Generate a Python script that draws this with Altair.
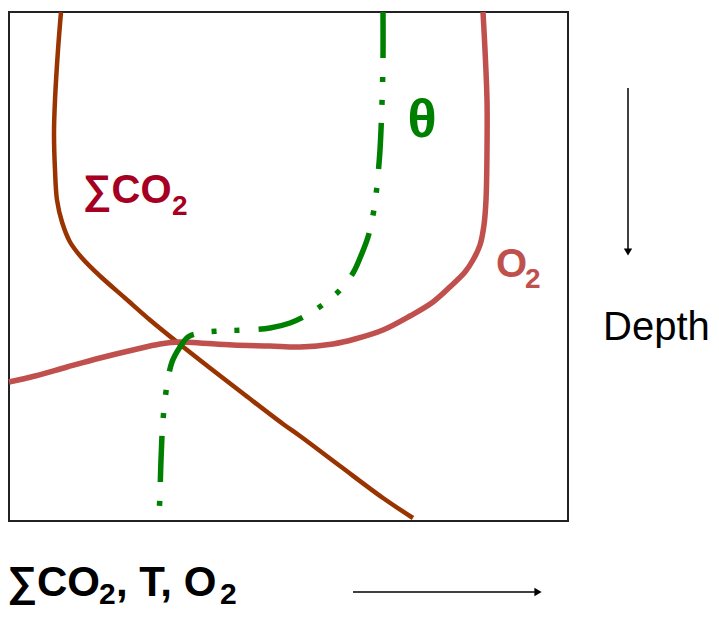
import altair as alt
import pandas as pd

# ---- data (arbitrary units: value along x, depth downward) ----
co2_x = [52, 49, 46, 45, 46, 48, 53, 61, 73, 91, 116, 141, 168, 201, 236, 274, 291, 331, 374, 404]
co2_d = [0, 38, 88, 121, 158, 188, 210, 230, 246, 264, 286, 308, 330, 356, 383, 412, 424, 454, 486, 506]

o2_x = [474, 476, 478, 478, 477, 475, 471, 464, 456, 443, 424, 401, 374, 346, 324, 291, 261, 224, 191, 171, 151, 124, 91, 58, 26, 0]
o2_d = [0, 38, 88, 138, 188, 213, 233, 248, 260, 273, 290, 304, 318, 327, 332, 335, 334, 333, 331, 330, 332, 338, 346, 355, 364, 370]

th_x = [374, 374, 373, 371, 369, 367, 364, 359, 351, 344, 331, 316, 298, 281, 261, 234, 211, 191, 179, 171, 163, 158, 154, 152, 151, 150]
th_d = [0, 46, 91, 138, 163, 183, 203, 225, 246, 261, 278, 291, 303, 311, 316, 318, 319, 321, 325, 335, 350, 373, 408, 448, 481, 506]

W, H = 559, 509
FONT = "Liberation Sans, Arial, sans-serif"

def series(xs, ds):
    return pd.DataFrame({"x": xs, "d": ds, "i": list(range(len(xs)))})

xs = alt.Scale(domain=[0, W], nice=False, zero=False)
ys = alt.Scale(domain=[0, H], nice=False, zero=False, reverse=True)

def line(df, color, width, dash=None):
    kw = dict(color=color, strokeWidth=width, interpolate="catmull-rom", strokeCap="butt")
    if dash:
        kw["strokeDash"] = dash
    return alt.Chart(df).mark_line(**kw).encode(
        x=alt.X("x:Q", scale=xs, axis=None),
        y=alt.Y("d:Q", scale=ys, axis=None),
        order="i:O",
    )

co2 = line(series(co2_x, co2_d), "#993300", 4.5)
o2 = line(series(o2_x, o2_d), "#c0504d", 5.5)
th = line(series(th_x, th_d), "#008000", 5.5, [46, 19, 5, 18, 5, 18])

one = pd.DataFrame({"a": [0]})

def txt(s, x, y, size, color="black", weight="bold", align="left"):
    return alt.Chart(one).mark_text(
        align=align, baseline="alphabetic", fontSize=size, fontWeight=weight,
        font=FONT, color=color,
    ).encode(x=alt.value(x), y=alt.value(y), text=alt.value(s))

labels = [
    txt("∑CO", 74, 191, 40, "#a50021"),
    txt("2", 163, 203, 28, "#a50021"),
    txt("θ", 413, 125, 54, "#008000", align="center"),
    txt("O", 487, 265, 40, "#c0504d"),
    txt("2", 516, 276, 28, "#c0504d"),
    txt("Depth", 594, 328, 40, "black", "normal"),
    txt("∑CO", -2, 584, 42),
    txt("2", 90, 592, 30),
    txt(", T, O", 107, 584, 42),
    txt("2", 211, 592, 30),
]

down_rule = alt.Chart(one).mark_rule(color="black", strokeWidth=1.5).encode(
    x=alt.value(619), y=alt.value(76), y2=alt.value(238))
down_head = alt.Chart(one).mark_point(shape="triangle-down", filled=True, color="black", size=70, opacity=1).encode(
    x=alt.value(619), y=alt.value(240))
right_rule = alt.Chart(one).mark_rule(color="black", strokeWidth=1.5).encode(
    x=alt.value(344), x2=alt.value(526), y=alt.value(580))
right_head = alt.Chart(one).mark_point(shape="triangle-right", filled=True, color="black", size=70, opacity=1).encode(
    x=alt.value(529), y=alt.value(580))

chart = alt.layer(co2, o2, th, *labels, down_rule, down_head, right_rule, right_head).properties(
    width=W, height=H,
    autosize=alt.AutoSizeParams(type="none"),
    padding={"left": 1, "top": 4, "right": 143, "bottom": 90},
).configure_view(stroke="#222222", strokeWidth=2)

chart.save("out.html", embed_options={"renderer": "svg", "actions": False})
